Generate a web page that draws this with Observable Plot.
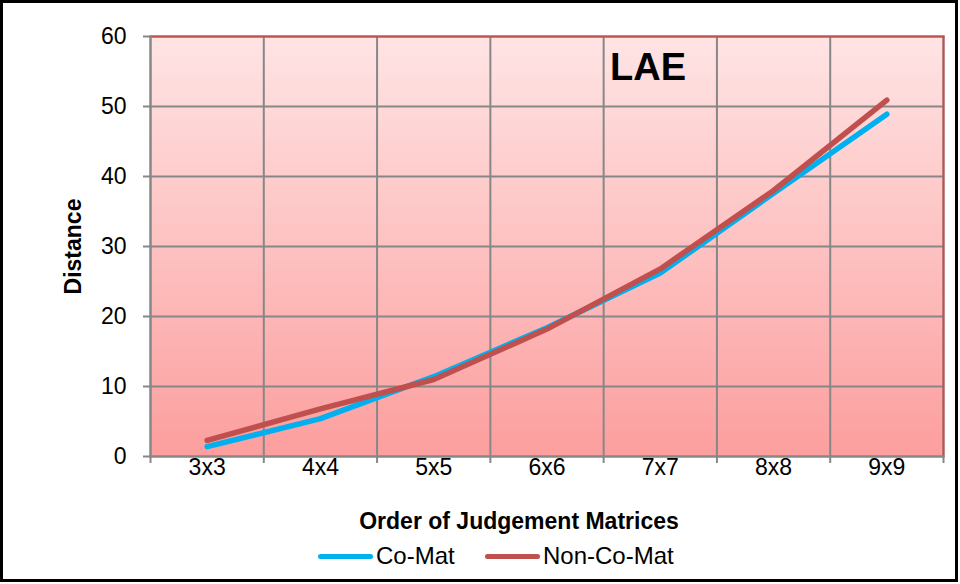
<!DOCTYPE html>
<html>
<head>
<meta charset="utf-8">
<script src="https://cdn.jsdelivr.net/npm/d3@7"></script>
<script src="https://cdn.jsdelivr.net/npm/@observablehq/plot@0.6"></script>
<style>
  html, body { margin: 0; padding: 0; background: #fff; }
  #wrap { position: relative; width: 960px; height: 584px; overflow: hidden; }
  #border { position: absolute; left: 0; top: 0; width: 958px; height: 582px; box-sizing: border-box; border: 3px solid #000; pointer-events: none; }
  #chart { position: absolute; left: 0; top: 0; }
  #legend { position: absolute; left: 0; top: 538px; width: 960px; height: 36px; font-family: "Liberation Sans", Arial, sans-serif; font-size: 24px; color: #000; }
  .item { position: absolute; top: 0; display: flex; align-items: center; height: 36px; }
  .sw { display: inline-block; width: 55px; height: 5px; border-radius: 3px; margin-right: 3px; }
</style>
</head>
<body>
<div id="wrap">
  <div id="chart"></div>
  <div id="legend"></div>
  <div id="border"></div>
</div>
<script>
const categories = ["3x3", "4x4", "5x5", "6x6", "7x7", "8x8", "9x9"];
const coMat = [1.4, 5.4, 11.4, 18.4, 26.2, 37.6, 48.9];
const nonCoMat = [2.3, 6.8, 11.0, 18.2, 26.8, 38.0, 50.9];
const yTicks = [0, 10, 20, 30, 40, 50, 60];
const seriesNames = ["Co-Mat", "Non-Co-Mat"];
const seriesColors = ["#00B0F0", "#C0504D"];

const rows = [];
categories.forEach((c, i) => {
  rows.push({ series: seriesNames[0], i, value: coMat[i] });
});
categories.forEach((c, i) => {
  rows.push({ series: seriesNames[1], i, value: nonCoMat[i] });
});
const boundaries = d3.range(categories.length + 1).map(k => k - 0.5);
const font = '"Liberation Sans", Arial, sans-serif';

const plot = Plot.plot({
  width: 960,
  height: 538,
  marginLeft: 150,
  marginRight: 17,
  marginTop: 36,
  marginBottom: 82,
  style: { fontFamily: font, fontSize: "23px", color: "#000", background: "transparent", overflow: "visible" },
  x: { type: "linear", domain: [-0.5, categories.length - 0.5] },
  y: { type: "linear", domain: [0, 60] },
  color: { domain: seriesNames, range: seriesColors },
  marks: [
    Plot.frame({ fill: "url(#bggrad)", stroke: "none" }),
    Plot.ruleX(boundaries, { stroke: "#878787", strokeWidth: 2, strokeOpacity: 1 }),
    Plot.ruleY(yTicks, { stroke: "#878787", strokeWidth: 2, strokeOpacity: 1 }),
    Plot.frame({ anchor: "top", stroke: "#C0504D", strokeWidth: 2 }),
    Plot.frame({ anchor: "right", stroke: "#C0504D", strokeWidth: 2 }),
    Plot.frame({ anchor: "left", stroke: "#878787", strokeWidth: 2 }),
    Plot.frame({ anchor: "bottom", stroke: "#878787", strokeWidth: 2 }),
    Plot.axisY({ ticks: yTicks, tickSize: 7, tickPadding: 17, stroke: "#878787", strokeWidth: 2, strokeOpacity: 1, fontSize: 23, label: "Distance", labelAnchor: "center", labelOffset: 86, labelArrow: "none" }),
    Plot.axisX({ ticks: boundaries, tickSize: 7, tickFormat: () => "", stroke: "#878787", strokeWidth: 2, strokeOpacity: 1, label: null }),
    Plot.axisX({ ticks: d3.range(categories.length), tickSize: 0, tickPadding: 2, tickFormat: i => categories[i], fontSize: 23, label: null }),
    Plot.line(rows, { x: "i", y: "value", z: "series", stroke: "series", strokeWidth: 5.5, strokeLinejoin: "round", strokeLinecap: "round" }),
    Plot.text(["LAE"], { frameAnchor: "top", dx: 101, dy: 17, lineAnchor: "top", fontSize: 38, fontWeight: "bold", fill: "#000" }),
    Plot.text(["Order of Judgement Matrices"], { frameAnchor: "bottom", dx: -28, dy: 65, lineAnchor: "middle", fontSize: 23, fontWeight: "bold", fill: "#000" })
  ]
});

// gradient background + bold y label
const svg = d3.select(plot);
const defs = svg.insert("defs", ":first-child");
const g = defs.append("linearGradient").attr("id", "bggrad").attr("x1", 0).attr("y1", 0).attr("x2", 0).attr("y2", 1);
g.append("stop").attr("offset", "0%").attr("stop-color", "#FFE4E4");
g.append("stop").attr("offset", "100%").attr("stop-color", "#FC9E9E");
svg.selectAll("text").filter(function() { return this.textContent === "Distance"; }).attr("font-weight", "bold");

document.getElementById("chart").appendChild(plot);

// legend
const legend = document.getElementById("legend");
const lefts = [318, 485];
seriesNames.forEach((name, k) => {
  const item = document.createElement("div");
  item.className = "item";
  item.style.left = lefts[k] + "px";
  const sw = document.createElement("span");
  sw.className = "sw";
  sw.style.background = seriesColors[k];
  item.appendChild(sw);
  item.appendChild(document.createTextNode(name));
  legend.appendChild(item);
});
</script>
</body>
</html>
